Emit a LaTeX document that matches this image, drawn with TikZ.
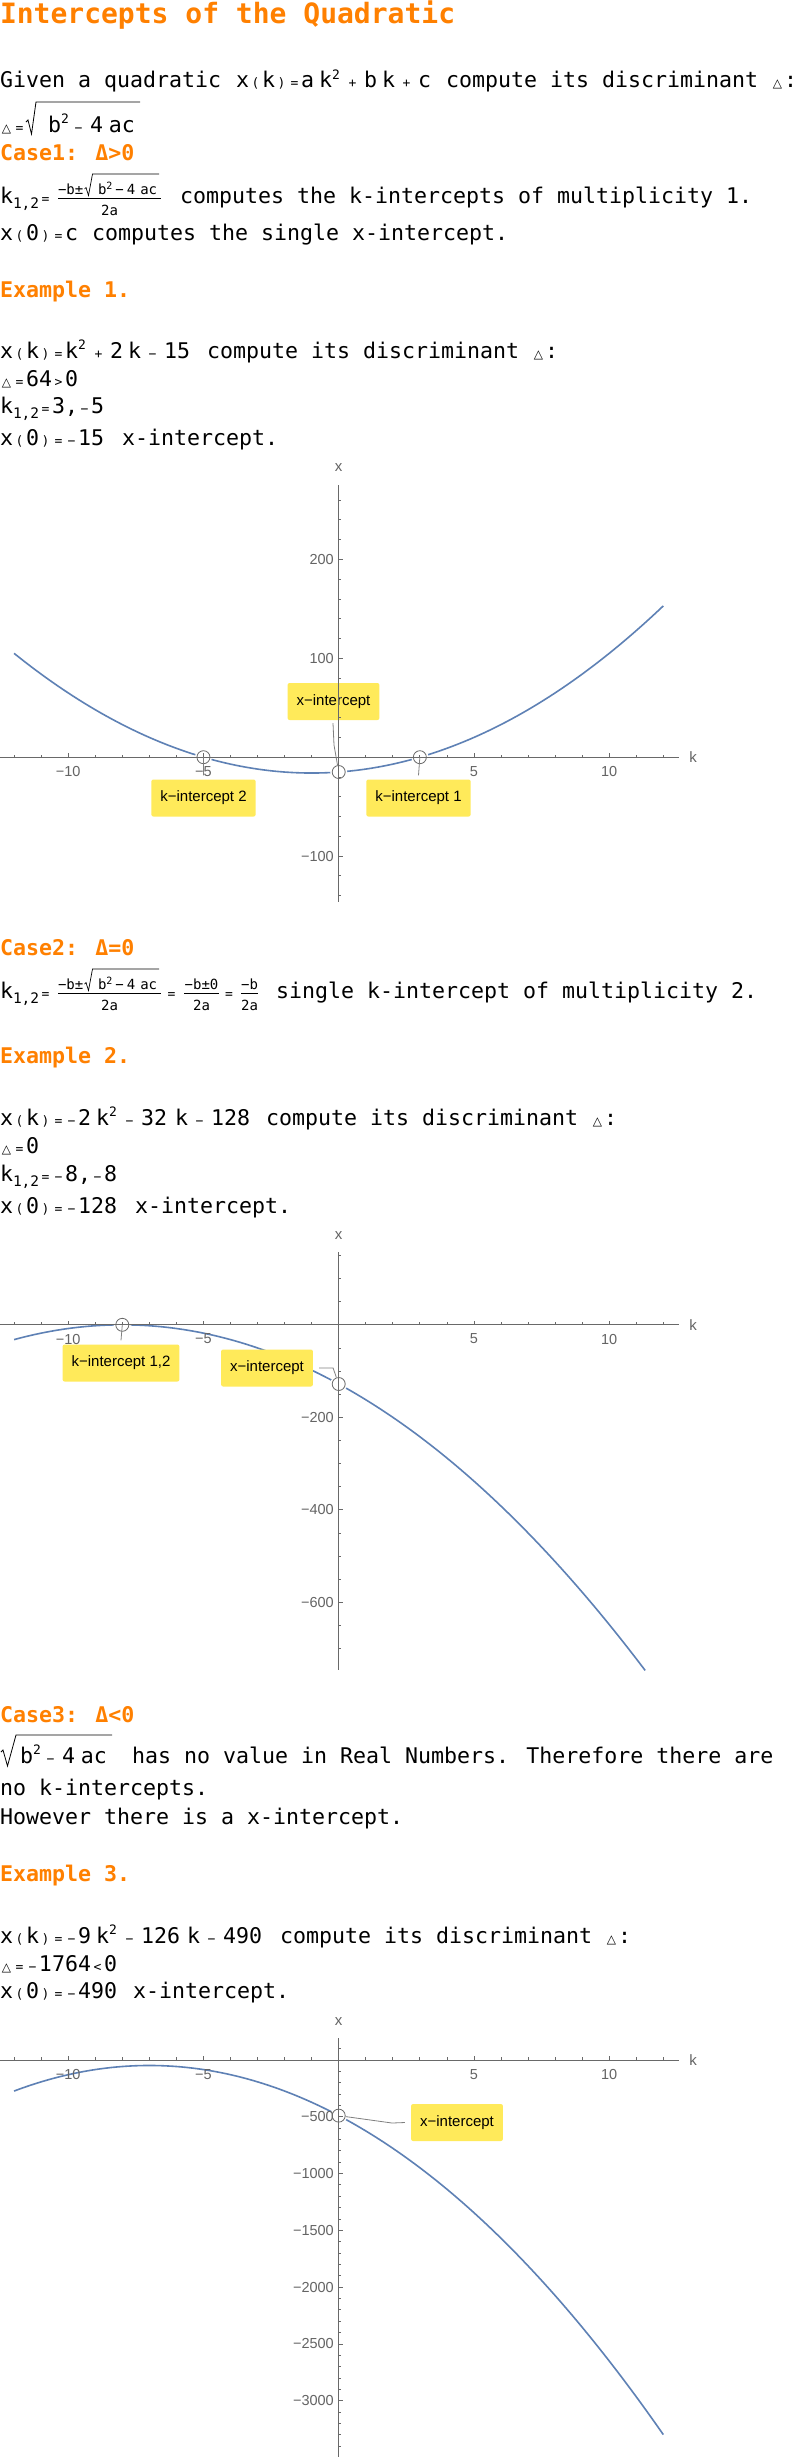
\documentclass[tikz,border=0pt]{standalone}
\usepackage{fontspec}
\setmainfont{DejaVu Sans Mono}
\newfontfamily\dsans{DejaVu Sans}
\newfontfamily\lsans{Liberation Sans}
\usetikzlibrary{calc}
\definecolor{hdr}{RGB}{255,128,0}
\definecolor{crv}{RGB}{94,129,181}
\definecolor{axg}{RGB}{105,105,105}
\definecolor{tkg}{RGB}{100,100,100}
\definecolor{ldrc}{RGB}{128,128,128}
\definecolor{lbl}{RGB}{255,234,90}
\newcommand\bodysize{\fontsize{21.6}{24}\selectfont}
\newcommand\mop[1]{\makebox[13pt]{\fontsize{13}{13}\selectfont #1}}
\newcommand\mtri{\makebox[13pt]{\dsans\fontsize{12}{12}\selectfont △}}
\newcommand\msq{\raisebox{9pt}{\makebox[9pt][l]{\fontsize{13}{13}\selectfont 2}}}
\newcommand\msub[1]{\raisebox{-5pt}{\makebox[26pt][l]{\fontsize{14.5}{14}\selectfont #1}}}
\newcommand\nsq{\raisebox{5pt}{\fontsize{10}{10}\selectfont 2}}
\tikzset{
 txt/.style={anchor=base west, inner sep=0pt, outer sep=0pt, font=\bodysize},
 hd/.style={txt, text=hdr, font=\bodysize\bfseries},
 num/.style={anchor=base west, inner sep=0pt, outer sep=0pt, font=\fontsize{14}{14}\selectfont},
 numc/.style={num, anchor=base},
 rad/.style={line width=0.8pt, line join=miter, draw=black},
 fbar/.style={line width=0.7pt, draw=black},
 axisln/.style={draw=axg, line width=0.8pt},
 tck/.style={draw=axg, line width=0.8pt},
 tlab/.style={font=\lsans\fontsize{14.5}{14.5}\selectfont, text=tkg, inner sep=0pt},
 axlab/.style={font=\lsans\fontsize{15}{15}\selectfont, text=tkg, inner sep=0pt},
 crvln/.style={draw=crv, line width=1.6pt, line join=round},
 ptmark/.style={circle, draw=axg, line width=0.8pt, minimum size=13pt, inner sep=0pt},
 ldr/.style={draw=ldrc, line width=0.8pt},
 lab/.style={fill=lbl, rounded corners=2pt, inner xsep=9pt, inner ysep=0pt, minimum height=37pt, font=\lsans\fontsize{15}{15}\selectfont, text=black},
}
\begin{document}
\begin{tikzpicture}[x=1pt,y=-1pt]
\fill[white] (0,0) rectangle (796,2457);
\useasboundingbox (0,0) rectangle (796,2457);

% ---------------- Title and Case 1 ----------------
\node[hd, font=\fontsize{28}{30}\selectfont\bfseries] (title) at (0,24) {Intercepts of the Quadratic};
\node[txt] (g1) at (0,88) {Given a quadratic};
\node[txt] (g1m) at (236,88) {x\mop{(}k\mop{)}\mop{=}a\hspace{5pt}k\msq\hspace{5pt}\mop{+}\hspace{5pt}b\hspace{5pt}k\hspace{5pt}\mop{+}\hspace{5pt}c};
\node[txt] (g1b) at (446,88) {compute its discriminant \mtri:};

\node[txt] (d2) at (0,132) {\mtri\mop{=}};
\node[txt] (r1) at (48,132) {b\msq\hspace{2pt}\mop{−}\hspace{5pt}4\hspace{6pt}ac};
\draw[rad] (26,122) -- (28,120) -- (31.5,134) -- (36,102) -- ($(r1.base east)+(5,-30)$);

\node[hd] (case1) at (0,160) {Case1: Δ>0};

\node[txt] (k3) at (0,203) {k\msub{1,2}\mop{=}};
\node[num] (f1a) at (58,194) {−b±};
\node[num] (f1b) at (98,194) {b\nsq\hspace{3pt}−\hspace{3pt}4\hspace{5pt}ac};
\draw[rad, line width=0.7pt] (84.5,189) -- (86,187.5) -- (88.5,195.5) -- (92.5,174) -- ($(f1b.base east)+(2,-20)$);
\draw[fbar] (58,198) -- (161,198);
\node[numc] (f1d) at (109.5,215) {2a};
\node[txt] (t3) at (180,203) {computes the k-intercepts of multiplicity 1.};

\node[txt] (m4) at (0,240) {x\mop{(}0\mop{)}\mop{=}c};
\node[txt] (t4) at (92,240) {computes the single x-intercept.};

\node[hd] (ex1) at (0,297) {Example 1.};
\node[txt] (m5) at (0,358) {x\mop{(}k\mop{)}\mop{=}k\msq\hspace{5pt}\mop{+}\hspace{5pt}2\hspace{5pt}k\hspace{5pt}\mop{−}\hspace{5pt}15};
\node[txt] (t5) at (207,358) {compute its discriminant \mtri:};
\node[txt] (m6) at (0,386) {\mtri\mop{=}64\mop{>}0};
\node[txt] (m7) at (0,413) {k\msub{1,2}\mop{=}3,\mop{−}5};
\node[txt] (m8) at (0,445) {x\mop{(}0\mop{)}\mop{=}\mop{−}15};
\node[txt] (t8) at (122,445) {x-intercept.};

% ---------------- Plot 1 ----------------
\draw[crvln] plot[domain=-12:12, samples=121] ({338.7+27.05*\x},{757.2-0.989*((\x)*(\x)+2*(\x)-15)});
\coordinate (p12) at (203.45,757.2);
\coordinate (p11) at (419.85,757.2);
\coordinate (p10) at (338.7,772.0);
\foreach \p in {p10,p11,p12} \fill[white] (\p) circle (8.5pt);
\node[lab] (xi1) at (333.5,701.5) {x−intercept};
\node[lab] (ki2) at (203.5,798) {k−intercept 2};
\node[lab] (ki1) at (418.5,798) {k−intercept 1};
\draw[axisln] (0,757.2) -- (678.6,757.2);
\draw[axisln] (338.7,485) -- (338.7,902);
\foreach \k in {-12,...,-1,1,2,...,12} \draw[tck] ({338.7+27.05*\k},757.2) -- ++(0,-2.5);
\foreach \k in {-10,-5,5,10} \draw[tck] ({338.7+27.05*\k},757.2) -- ++(0,-4.2);
\foreach \v in {-140,-120,...,260} \draw[tck] (338.7,{757.2-0.989*\v}) -- ++(2.5,0);
\foreach \v in {-100,100,200} \draw[tck] (338.7,{757.2-0.989*\v}) -- ++(4.2,0);
\foreach \k/\t in {-10/−10,-5/−5,5/5,10/10} \node[tlab] (a1k\k) at ({338.7+27.05*\k},771.7) {\t};
\foreach \v/\t in {-100/−100,100/100,200/200} \node[tlab, anchor=east] (a1v\v) at (334,{757.2-0.989*\v}) {\t};
\node[axlab] (xl1) at (338.7,468) {x};
\node[axlab] (kl1) at (693,757.2) {k};
\node[ptmark] (c10) at (p10) {};
\node[ptmark] (c11) at (p11) {};
\node[ptmark] (c12) at (p12) {};
\coordinate (l1) at (334,745);
\draw[ldr] ($(xi1.south)+(-0.5,3)$) -- (l1) -- (c10);
\draw[ldr] (c11.center) -- ($(ki1.north)+(0,-4)$);
\draw[ldr] (c12.center) -- ($(ki2.north)+(0,-4)$);

% ---------------- Case 2 ----------------
\node[hd] (case2) at (0,955) {Case2: Δ=0};
\node[txt] (k9) at (0,998) {k\msub{1,2}\mop{=}};
\node[num] (f9a) at (58,989) {−b±};
\node[num] (f9b) at (98,989) {b\nsq\hspace{3pt}−\hspace{3pt}4\hspace{5pt}ac};
\draw[rad, line width=0.7pt] (84.5,984) -- (86,982.5) -- (88.5,990.5) -- (92.5,969) -- ($(f9b.base east)+(2,-20)$);
\draw[fbar] (58,993) -- (161,993);
\node[numc] (f9d) at (109.5,1010.5) {2a};
\node[txt] (eq9a) at (165,998) {\mop{=}};
\node[numc] (f9c) at (201.5,989) {−b±0};
\draw[fbar] (184,993) -- (219,993);
\node[numc] (f9e) at (201.5,1010.5) {2a};
\node[txt] (eq9b) at (222.5,998) {\mop{=}};
\node[numc] (f9f) at (249.5,989) {−b};
\draw[fbar] (241,993) -- (258,993);
\node[numc] (f9g) at (249.5,1010.5) {2a};
\node[txt] (t9) at (276,998) {single k-intercept of multiplicity 2.};

\node[hd] (ex2) at (0,1063) {Example 2.};
\node[txt] (m10) at (0,1125) {x\mop{(}k\mop{)}\mop{=}\mop{−}2\hspace{5pt}k\msq\hspace{5pt}\mop{−}\hspace{5pt}32\hspace{8pt}k\hspace{5pt}\mop{−}\hspace{5pt}128};
\node[txt] (t10) at (266,1125) {compute its discriminant \mtri:};
\node[txt] (m11) at (0,1153) {\mtri\mop{=}0};
\node[txt] (m12) at (0,1181) {k\msub{1,2}\mop{=}\mop{−}8,\mop{−}8};
\node[txt] (m13) at (0,1213) {x\mop{(}0\mop{)}\mop{=}\mop{−}128};
\node[txt] (t13) at (135,1213) {x-intercept.};

% ---------------- Plot 2 ----------------
\draw[crvln] plot[domain=-12:11.33, samples=121] ({338.7+27.05*\x},{1324.8-0.4625*(-2*(\x)*(\x)-32*(\x)-128)});
\coordinate (p20) at (122.3,1324.8);
\coordinate (p21) at (338.7,1384.0);
\foreach \p in {p20,p21} \fill[white] (\p) circle (8.5pt);
\node[lab] (ki20) at (121,1363) {k−intercept 1,2};
\node[lab] (xi2) at (267,1368) {x−intercept};
\draw[axisln] (0,1324.8) -- (678.6,1324.8);
\draw[axisln] (338.7,1252) -- (338.7,1670);
\foreach \k in {-12,...,-1,1,2,...,12} \draw[tck] ({338.7+27.05*\k},1324.8) -- ++(0,-2.5);
\foreach \k in {-10,-5,5,10} \draw[tck] ({338.7+27.05*\k},1324.8) -- ++(0,-4.2);
\foreach \v in {-700,-650,...,150} \draw[tck] (338.7,{1324.8-0.4625*\v}) -- ++(2.5,0);
\foreach \v in {-600,-400,-200} \draw[tck] (338.7,{1324.8-0.4625*\v}) -- ++(4.2,0);
\foreach \k/\t in {-10/−10,-5/−5,5/5,10/10} \node[tlab] (a2k\k) at ({338.7+27.05*\k},1339) {\t};
\foreach \v/\t in {-200/−200,-400/−400,-600/−600} \node[tlab, anchor=east] (a2v\v) at (334,{1324.8-0.4625*\v}) {\t};
\node[axlab] (xl2) at (338.7,1236) {x};
\node[axlab] (kl2) at (693,1324.8) {k};
\node[ptmark] (c20) at (p20) {};
\node[ptmark] (c21) at (p21) {};
\draw[ldr] (c20.center) -- ($(ki20.north)+(0,-4)$);
\draw[ldr] ($(xi2.east)+(6,0)$) -- ++(14,0) -- (c21);

% ---------------- Case 3 ----------------
\node[hd] (case3) at (0,1722) {Case3: Δ<0};
\node[txt] (r14) at (20,1763) {b\msq\hspace{2pt}\mop{−}\hspace{5pt}4\hspace{6pt}ac};
\draw[rad] (1,1752) -- (3,1750) -- (7.5,1766) -- (16,1735) -- ($(r14.base east)+(5,-28)$);
\node[txt] (t14) at (132,1763) {has no value in Real Numbers. Therefore there are};
\node[txt] (t15) at (0,1795) {no k-intercepts.};
\node[txt] (t16) at (0,1824) {However there is a x-intercept.};
\node[hd] (ex3) at (0,1881) {Example 3.};
\node[txt] (m17) at (0,1943) {x\mop{(}k\mop{)}\mop{=}\mop{−}9\hspace{5pt}k\msq\hspace{5pt}\mop{−}\hspace{5pt}126\hspace{7pt}k\hspace{5pt}\mop{−}\hspace{5pt}490};
\node[txt] (t17) at (280,1943) {compute its discriminant \mtri:};
\node[txt] (m18) at (0,1971) {\mtri\mop{=}\mop{−}1764\mop{<}0};
\node[txt] (m19) at (0,1998) {x\mop{(}0\mop{)}\mop{=}\mop{−}490};
\node[txt] (t19) at (133,1998) {x-intercept.};

% ---------------- Plot 3 ----------------
\draw[crvln] plot[domain=-12:12, samples=121] ({338.7+27.05*\x},{2059.9-0.1136*(-9*(\x)*(\x)-126*(\x)-490)});
\coordinate (p30) at (338.7,2115.6);
\fill[white] (p30) circle (8.5pt);
\node[lab] (xi3) at (457,2122.5) {x−intercept};
\draw[axisln] (0,2059.9) -- (678.6,2059.9);
\draw[axisln] (338.7,2038) -- (338.7,2457);
\foreach \k in {-12,...,-1,1,2,...,12} \draw[tck] ({338.7+27.05*\k},2059.9) -- ++(0,-2.5);
\foreach \k in {-10,-5,5,10} \draw[tck] ({338.7+27.05*\k},2059.9) -- ++(0,-4.2);
\foreach \v in {-3400,-3300,...,100} \draw[tck] (338.7,{2059.9-0.1136*\v}) -- ++(2.5,0);
\foreach \v in {-3000,-2500,...,-500} \draw[tck] (338.7,{2059.9-0.1136*\v}) -- ++(4.2,0);
\foreach \k/\t in {-10/−10,-5/−5,5/5,10/10} \node[tlab] (a3k\k) at ({338.7+27.05*\k},2074.5) {\t};
\foreach \v/\t in {-500/−500,-1000/−1000,-1500/−1500,-2000/−2000,-2500/−2500,-3000/−3000} \node[tlab, anchor=east] (a3v\v) at (334,{2059.9-0.1136*\v}) {\t};
\node[axlab] (xl3) at (338.7,2022) {x};
\node[axlab] (kl3) at (693,2059.9) {k};
\node[ptmark] (c30) at (p30) {};
\coordinate (l3) at (392,2123);
\draw[ldr] (c30) -- (l3) -- ($(xi3.west)+(-6,0)$);
\end{tikzpicture}
\end{document}
